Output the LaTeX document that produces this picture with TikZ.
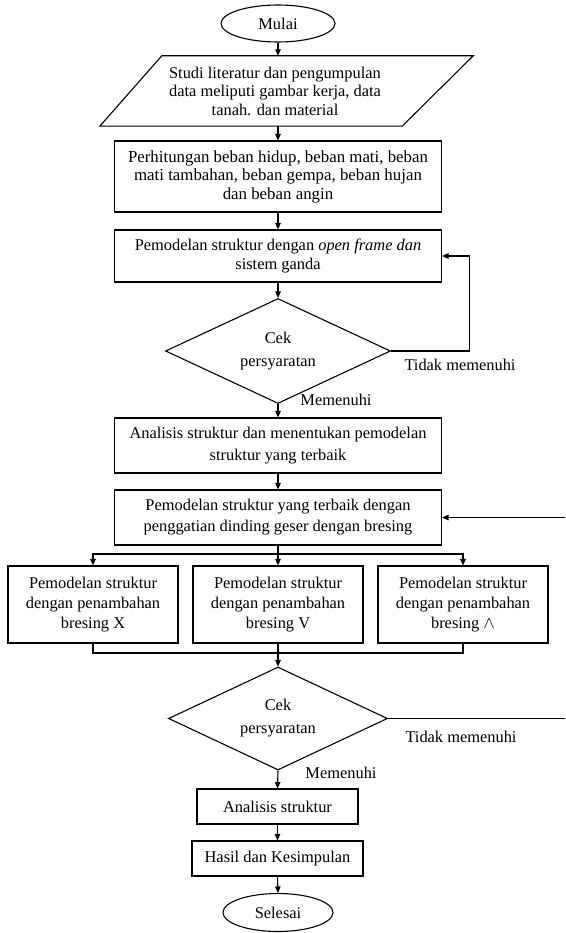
\documentclass[tikz,border=0pt]{standalone}
\usepackage{fontspec}
\setmainfont{Liberation Serif}
\usetikzlibrary{shapes.geometric,arrows.meta}
\begin{document}
\begin{tikzpicture}[x=1pt,y=-1pt,
  every node/.style={font=\fontsize{16.4}{19.5}\selectfont, inner sep=0pt, align=center},
  ln/.style={line width=1.1pt, draw=black},
  arr/.style={ln, -{Triangle[length=6.5pt,width=5.5pt]}},
  box/.style={ln, draw, rectangle, minimum width=327, minimum height=#1},
  term/.style={ln, draw, ellipse, minimum width=114, minimum height=37},
  dec/.style={ln, draw, diamond, aspect=2.1, font=\fontsize{16.4}{23}\selectfont},
  sub/.style={ln, draw, rectangle, minimum width=170, minimum height=77, font=\fontsize{16.4}{20}\selectfont},
  lab/.style={font=\fontsize{16.4}{19.5}\selectfont}
]
\useasboundingbox (0,0) rectangle (565,933);

% main column
\node[term] (start) at (278,23.5) {Mulai};
\node[minimum width=300, minimum height=70, font=\fontsize{16.4}{18.5}\selectfont] (para) at (275,91)
  {Studi literatur dan pengumpulan\\ data meliputi gambar kerja, data\\ tanah. dan material};
\draw[ln] ([xshift=-25]para.south west) -- ([xshift=-23]para.south east)
  -- ([xshift=48]para.north east) -- ([xshift=37]para.north west) -- cycle;
\node[box=71, font=\fontsize{16.85}{18.5}\selectfont] (b1) at (278,176.5)
  {Perhitungan beban hidup, beban mati, beban\\ mati tambahan, beban gempa, beban hujan\\ dan beban angin};
\node[box=52] (b2) at (278,256)
  {Pemodelan struktur dengan \textit{open frame dan}\\ sistem ganda};
\node[dec, minimum width=225, minimum height=105] (d1) at (278,351) {Cek\\ persyaratan};
\node[box=55, font=\fontsize{16.4}{22}\selectfont] (b3) at (278,445.5)
  {Analisis struktur dan menentukan pemodelan\\ struktur yang terbaik};
\node[box=55, font=\fontsize{16.4}{21}\selectfont] (b4) at (278,517.5)
  {Pemodelan struktur yang terbaik dengan\\ penggatian dinding geser dengan bresing};

% three alternatives
\node[sub] (c1) at (93,604.5) {Pemodelan struktur\\ dengan penambahan\\ bresing X};
\node[sub] (c2) at (278,604.5) {Pemodelan struktur\\ dengan penambahan\\ bresing V};
\node[sub] (c3) at (463,604.5) {Pemodelan struktur\\ dengan penambahan\\ bresing $\wedge$};

\node[dec, minimum width=219, minimum height=103] (d2) at (278,718.5) {Cek\\ persyaratan};
\node[ln, draw, rectangle, minimum width=161, minimum height=35] (e1) at (277.5,806.5) {Analisis struktur};
\node[ln, draw, rectangle, minimum width=171, minimum height=35] (e2) at (277.5,858.5) {Hasil dan Kesimpulan};
\node[ln, draw, ellipse, minimum width=110, minimum height=38] (stop) at (278,912.5) {Selesai};

% labels
\node[lab] (t1) at (460,365) {Tidak memenuhi};
\node[lab] (m1) at (336,400) {Memenuhi};
\node[lab] (t2) at (461,737) {Tidak memenuhi};
\node[lab] (m2) at (341,773) {Memenuhi};

% coordinates
\coordinate (r1) at (565,517.5);
\coordinate (r2) at (565,718.5);
\coordinate (sp) at (278,554);
\coordinate (mg) at (278,653);

% connectors
\draw[arr] (start.south) -- (start.south |- para.north);
\draw[arr] (start.south |- para.south) -- (b1.north);
\draw[arr] (b1.south) -- (b2.north);
\draw[arr] (b2.south) -- (d1.north);
\draw[arr] (d1.east) -- ++(78,0) |- (b2.east);
\draw[arr] (d1.south) -- (b3.north);
\draw[arr] (b3.south) -- (b4.north);
\draw[arr] (r1) -- (b4.east);
\draw[ln] (b4.south) -- (sp);
\draw[arr] (sp) -| (c1.north);
\draw[arr] (sp) -| (c3.north);
\draw[arr] (sp) -- (c2.north);
\draw[ln] (c1.south) -- (c1.south |- mg) -- (c3.south |- mg) -- (c3.south);
\draw[arr] (c2.south) -- (d2.north);
\draw[ln] (d2.east) -- (r2);
\draw[arr] (d2.south) -- (e1.north);
\draw[arr] (e1.south) -- (e2.north);
\draw[arr] (e2.south) -- (stop.north);
\end{tikzpicture}
\end{document}
